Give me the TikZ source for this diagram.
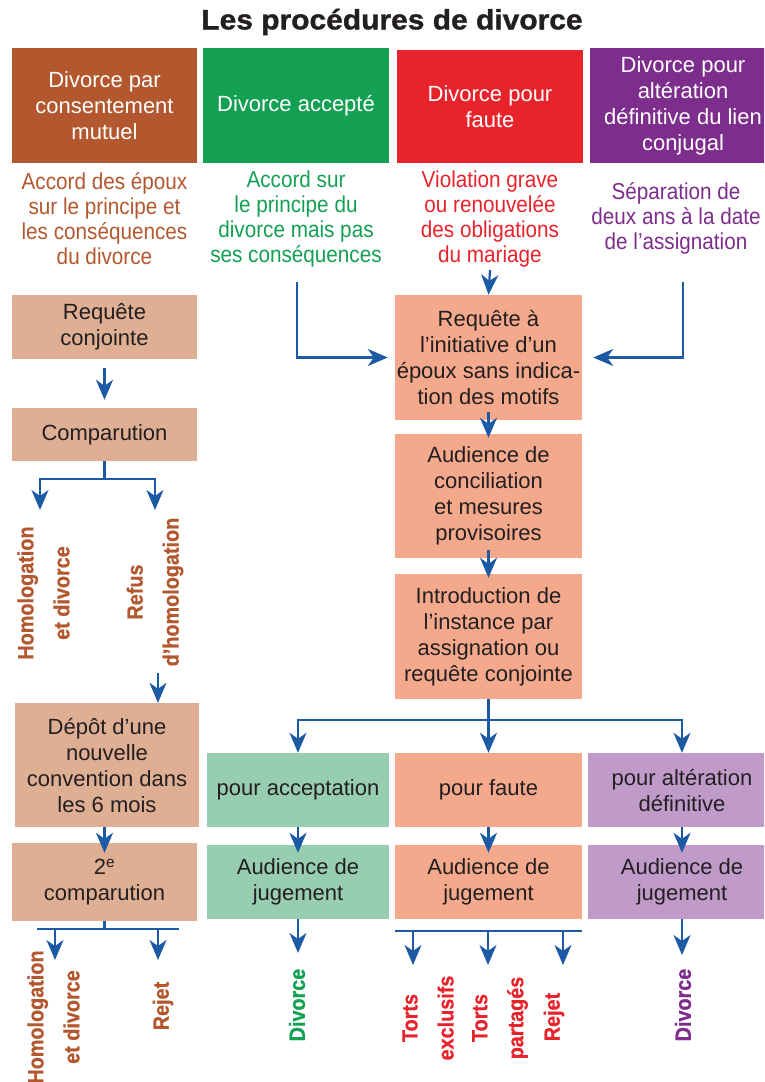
\documentclass[tikz,border=0pt]{standalone}
\usepackage{fontspec}
\setmainfont{Liberation Sans}
\newfontfamily\titlefont{Liberation Sans Bold}[FakeStretch=1.07, FakeBold=1.2]
\newfontfamily\rotfont{Liberation Sans Bold}[FakeStretch=0.9, FakeBold=0.6]
\newfontfamily\descfont{Liberation Sans}[FakeStretch=0.9]
\usetikzlibrary{arrows.meta}
\definecolor{cbrown}{HTML}{B3582E}
\definecolor{cgreen}{HTML}{13A053}
\definecolor{cred}{HTML}{E8232B}
\definecolor{cpurple}{HTML}{7D2D8C}
\definecolor{ctan}{HTML}{DFAF94}
\definecolor{csalmon}{HTML}{F4A98C}
\definecolor{clgreen}{HTML}{97CDB1}
\definecolor{clav}{HTML}{C09BCA}
\definecolor{cblue}{HTML}{1D5AA6}
\definecolor{cdark}{HTML}{231F20}
\begin{document}
\begin{tikzpicture}[x=1pt,y=-1pt,
  box/.style={inner sep=0pt, align=center, text=cdark, font=\fontsize{22}{26}\selectfont},
  head/.style={box, text=white},
  desc/.style={inner sep=0pt, align=center, font=\descfont\fontsize{23}{25}\selectfont},
  rot/.style={rotate=90, inner sep=0pt, align=center, font=\rotfont\fontsize{22}{36}\selectfont},
  ln/.style={draw=cblue, line width=2.2pt},
  arr/.style={ln, -{Stealth[length=20pt,width=17pt,inset=6pt]}},
]
\useasboundingbox (0,0) rectangle (764,1082);
\clip (0,0) rectangle (764,1082);
\fill[white] (0,0) rectangle (764,1082);

\node[font=\titlefont\fontsize{28}{30}\selectfont, text=cdark] (title) at (392,22) {Les procédures de divorce};

% headers
\node[head, fill=cbrown, minimum width=185, minimum height=115] (h1) at (104.5,105.5) {Divorce par\\consentement\\mutuel};
\node[head, fill=cgreen, minimum width=186, minimum height=115] (h2) at (296,105.5) {Divorce accepté};
\node[head, fill=cred, minimum width=186, minimum height=113] (h3) at (490,106.5) {Divorce pour\\faute};
\node[head, fill=cpurple, minimum width=186, minimum height=115] (h4) at (683,105.5) {Divorce pour\\altération\\définitive du lien\\conjugal};

% descriptions
\node[desc, text=cbrown] (d1) at (104.5,219) {Accord des époux\\sur le principe et\\les conséquences\\du divorce};
\node[desc, text=cgreen] (d2) at (296,219) {Accord sur\\le principe du\\divorce mais pas\\ses conséquences};
\node[desc, text=cred] (d3) at (490,219) {Violation grave\\ou renouvelée\\des obligations\\du mariage};
\node[desc, text=cpurple] (d4) at (676,218) {Séparation de\\deux ans à la date\\de l’assignation};

% left column
\node[box, fill=ctan, minimum width=185, minimum height=64] (rc) at (104.5,327) {Requête\\conjointe};
\node[box, fill=ctan, minimum width=185, minimum height=53] (cmp) at (104.5,434.5) {Comparution};
\node[box, fill=ctan, minimum width=184, minimum height=124] (dep) at (107,765) {Dépôt d’une\\nouvelle\\convention dans\\les 6 mois};
\node[box, fill=ctan, minimum width=185, minimum height=78] (cmp2) at (104.5,882) {2\textsuperscript{e}\\comparution};

% middle column
\node[box, fill=csalmon, minimum width=187, minimum height=125] (req) at (488.5,357.5) {Requête à\\l’initiative d’un\\époux sans indica-\\tion des motifs};
\node[box, fill=csalmon, minimum width=187, minimum height=124] (aud) at (488.5,496) {Audience de\\conciliation\\et mesures\\provisoires};
\node[box, fill=csalmon, minimum width=187, minimum height=125] (intro) at (488.5,636.5) {Introduction de\\l’instance par\\assignation ou\\requête conjointe};

% bottom rows
\node[box, fill=clgreen, minimum width=182, minimum height=74] (pacc) at (298,790) {pour acceptation};
\node[box, fill=csalmon, minimum width=187, minimum height=74] (pf) at (488.5,790) {pour faute};
\node[box, fill=clav, minimum width=188, minimum height=74] (palt) at (682,790) {pour altération\\définitive};
\node[box, fill=clgreen, minimum width=182, minimum height=74] (ajg) at (298,882) {Audience de\\jugement};
\node[box, fill=csalmon, minimum width=187, minimum height=74] (ajf) at (488.5,882) {Audience de\\jugement};
\node[box, fill=clav, minimum width=188, minimum height=74] (aja) at (682,882) {Audience de\\jugement};

% rotated outcomes
\node[rot, text=cbrown] (o1) at (43.5,593) {Homologation\\et divorce};
\node[rot, text=cbrown] (o2) at (155,592) {Refus\\d’homologation};
\node[rot, text=cbrown] (o3) at (53.5,1017) {Homologation\\et divorce};
\node[rot, text=cbrown] (o4) at (163,1006) {Rejet};
\node[rot, text=cgreen] (o5) at (297,1005) {Divorce};
\node[rot, text=cred] (o6) at (428,1018) {Torts\\exclusifs};
\node[rot, text=cred] (o7) at (500,1018) {Torts\\partagés};
\node[rot, text=cred] (o8) at (554,1017) {Rejet};
\node[rot, text=cpurple] (o9) at (683,1005) {Divorce};

% connectors top
\coordinate (rs) at (490,270);
\coordinate (gs) at (297,282);
\coordinate (ps) at (683,282);
\draw[arr] (rs) -- (req.north);
\draw[arr, shorten >=7pt] (gs) |- (req.west);
\draw[arr, shorten >=11pt] (ps) |- (req.east);

% left column connectors
\draw[arr, shorten <=9pt, shorten >=8pt] (rc) -- (cmp);
\coordinate (t1) at (40,510);
\coordinate (t2) at (155,510);
\draw[arr] (cmp.south) -- ++(0,18) -| (t1);
\draw[arr] (cmp.south) -- ++(0,18) -| (t2);
\coordinate (t3) at (158,673);
\draw[arr] (t3) -- (t3 |- dep.north);
\draw[arr] (cmp2.north |- dep.south) -- ([yshift=-10pt]cmp2.north);
\coordinate (b2L) at (37,929);
\coordinate (b2R) at (179,929);
\draw[ln] (cmp2.south) -- (cmp2.south |- b2L);
\draw[ln] (b2L) -- (b2R);
\coordinate (t4) at (55,960);
\coordinate (t5) at (158,960);
\draw[arr] (t4 |- b2L) -- (t4);
\draw[arr] (t5 |- b2L) -- (t5);

% middle connectors
\draw[arr] ([yshift=8pt]req.south) -- ([yshift=-4pt]aud.north);
\draw[arr] ([yshift=8pt]aud.south) -- ([yshift=-4pt]intro.north);
\draw[arr] (intro.south) -- (pf.north);
\draw[arr] (intro.south) -- ++(0,21) -| (pacc.north);
\draw[arr] (intro.south) -- ++(0,21) -| (palt.north);
\draw[arr] (pacc.south) -- ([yshift=-8pt]ajg.north);
\draw[arr] (pf.south) -- ([yshift=-8pt]ajf.north);
\draw[arr] (palt.south) -- ([yshift=-8pt]aja.north);

% bottom outcomes
\coordinate (t6) at (298,953);
\draw[arr] (ajg.south) -- (t6);
\coordinate (t7) at (682,955);
\draw[arr] (aja.south) -- (t7);
\coordinate (fL) at (395,931);
\coordinate (fR) at (582,931);
\draw[ln] (fL) -- (fR);
\coordinate (f1) at (413,965);
\coordinate (f2) at (488,965);
\coordinate (f3) at (563,965);
\draw[arr] (f1 |- fL) -- (f1);
\draw[arr] (f2 |- fL) -- (f2);
\draw[arr] (f3 |- fL) -- (f3);
\end{tikzpicture}
\end{document}
